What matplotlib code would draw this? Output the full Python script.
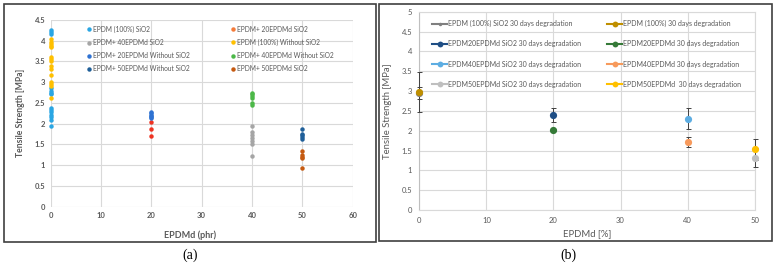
import matplotlib.pyplot as plt
from matplotlib.legend import Legend
from matplotlib.lines import Line2D
from matplotlib.patches import Rectangle

plt.rcParams['font.family'] = ['Lato', 'DejaVu Sans']

# ---- panel (a): tensile strength vs EPDMd content, individual specimens
a_labels = ['EPDM (100%) SiO2', 'EPDM+ 20EPDMd SiO2', 'EPDM+ 40EPDMd SiO2',
            'EPDM (100%) Without SiO2', 'EPDM+ 20EPDMd Without SiO2',
            'EPDM+ 40EPDMd Without SiO2', 'EPDM+ 50EPDMd Without SiO2',
            'EPDM+ 50EPDMd SiO2']
a_x = [0, 20, 40, 0, 20, 40, 50, 50]
a_vals = [
    [4.27, 4.22, 4.17, 2.86, 2.80, 2.75, 2.72, 2.39, 2.34, 2.28, 2.22, 2.16, 2.10, 1.94],
    [2.04, 1.88, 1.70],
    [1.95, 1.79, 1.72, 1.65, 1.58, 1.52, 1.22],
    [4.03, 3.98, 3.93, 3.88, 3.84, 3.62, 3.56, 3.50, 3.38, 3.33, 3.17, 3.00, 2.95, 2.91, 2.62],
    [2.28, 2.25, 2.22, 2.19, 2.16, 2.13],
    [2.75, 2.71, 2.67, 2.63, 2.50, 2.46],
    [1.87, 1.76, 1.72, 1.68, 1.64],
    [1.34, 1.24, 1.20, 1.17, 0.94],
]
a_colors = ['#2AA6E3', '#EE3322', '#A5A5A5', '#FFC000', '#2E72D2', '#4CB848', '#1F5F99', '#C55A11']
a_legend_colors = ['#2AA6E3', '#F47B3A', '#A5A5A5', '#FFC000', '#2E72D2', '#4CB848', '#1F5F99', '#C55A11']
a_cols = [[0, 2, 4, 6], [1, 3, 5, 7]]  # legend columns

# ---- panel (b): after 30 days degradation, mean +/- sd
b_labels = ['EPDM (100%) SiO2 30 days degradation', 'EPDM (100%) 30 days degradation',
            'EPDM20EPDMd SiO2 30 days degradation', 'EPDM20EPDMd 30 days degradation',
            'EPDM40EPDMd SiO2 30 days degradation', 'EPDM40EPDMd 30 days degradation',
            'EPDM50EPDMd SiO2 30 days degradation', 'EPDM50EPDMd  30 days degradation']
b_x = [0, 0, 20, 20, 40, 40, 50, 50]
b_mean = [2.95, 2.97, 2.39, 2.02, 2.30, 1.71, 1.32, 1.53]
b_err = [0.15, 0.50, 0.17, 0.03, 0.26, 0.12, 0.24, 0.27]
b_colors = ['#7F7F7F', '#BF8F00', '#1F4E85', '#357A38', '#5DADE2', '#F79A5C', '#BFBFBF', '#FFC000']
b_cols = [[0, 2, 4, 6], [1, 3, 5, 7]]

txt = '#595959'
grid = '#D9D9D9'

fig = plt.figure(figsize=(7.75, 2.67), dpi=100)

# frames around each panel
fig.patches.append(Rectangle((0.0058, 0.094), 0.4794, 0.891, transform=fig.transFigure,
                             fill=False, ec='#404040', lw=1.2))
fig.patches.append(Rectangle((0.489, 0.097), 0.5071, 0.888, transform=fig.transFigure,
                             fill=False, ec='#404040', lw=1.2))

# ---------- (a)
ax = fig.add_axes([0.0654, 0.2258, 0.3897, 0.6993])
for i in range(len(a_vals)):
    ax.plot([a_x[i]] * len(a_vals[i]), a_vals[i], 'o', ms=3.2, color=a_colors[i],
            mec='none', clip_on=False, zorder=3)
ax.set_xlim(0, 60)
ax.set_ylim(0, 4.5)
ax.set_xticks(range(0, 61, 10))
ax.set_yticks([0, 0.5, 1, 1.5, 2, 2.5, 3, 3.5, 4, 4.5])
ax.set_yticklabels(['0', '0.5', '1', '1.5', '2', '2.5', '3', '3.5', '4', '4.5'])
ax.grid(True, color=grid, lw=0.8)
ax.set_axisbelow(True)
for s in ax.spines.values():
    s.set_visible(False)
ax.tick_params(length=0, labelsize=5.5, colors=txt, pad=4)
for lab in ax.get_xticklabels() + ax.get_yticklabels():
    lab.set_fontweight('bold')
ax.set_ylabel('Tensile Strength [MPa]', fontsize=6.2, color=txt, fontweight='bold', labelpad=7)
ax.set_xlabel('EPDMd (phr)', fontsize=6.5, color=txt, fontweight='bold')
ax.xaxis.set_label_coords(0.46, -0.125)

for col, x0 in zip(a_cols, [0.12, 0.597]):
    handles = [Line2D([], [], ls='none', marker='o', ms=3.2, color=a_legend_colors[i], mec='none')
               for i in col]
    leg = Legend(ax, handles, [a_labels[i] for i in col], loc='upper left',
                 bbox_to_anchor=(x0, 0.969), frameon=False, fontsize=4.8, labelcolor=txt,
                 handlelength=0.6, handletextpad=0.3, labelspacing=0.9, borderaxespad=0,
                 borderpad=0)
    ax.add_artist(leg)

# ---------- (b)
bx = fig.add_axes([0.5410, 0.2135, 0.4328, 0.7427])
for i in range(len(b_mean)):
    bx.errorbar(b_x[i], b_mean[i], yerr=b_err[i], fmt='o', ms=5.2, color=b_colors[i],
                mec='none', ecolor='#404040', elinewidth=0.7, capsize=1.8, capthick=0.7,
                clip_on=False, zorder=3)
bx.set_xlim(0, 50)
bx.set_ylim(0, 5)
bx.set_xticks(range(0, 51, 10))
bx.set_yticks([0, 0.5, 1, 1.5, 2, 2.5, 3, 3.5, 4, 4.5, 5])
bx.set_yticklabels(['0', '0.5', '1', '1.5', '2', '2.5', '3', '3.5', '4', '4.5', '5'])
bx.grid(True, color=grid, lw=0.8)
bx.set_axisbelow(True)
for s in bx.spines.values():
    s.set_color(grid)
    s.set_linewidth(0.8)
bx.spines['left'].set_color('#BFBFBF')
bx.tick_params(length=0, labelsize=5.5, colors=txt, pad=5)
bx.set_ylabel('Tensile Strength [MPa]', fontsize=6.8, color=txt, labelpad=7)
bx.set_xlabel('EPDMd [%]', fontsize=6.8, color=txt, labelpad=4)

for col, x0 in zip(b_cols, [0.038, 0.56]):
    handles = [Line2D([], [], color=b_colors[i], lw=1.5, marker='o',
                      ms=2.5 if i == 0 else 4.2, mec='none') for i in col]
    leg = Legend(bx, handles, [b_labels[i] for i in col], loc='upper left',
                 bbox_to_anchor=(x0, 0.958), frameon=False, fontsize=5.0, labelcolor=txt,
                 handlelength=2.2, handletextpad=0.15, labelspacing=1.9, borderaxespad=0,
                 borderpad=0)
    bx.add_artist(leg)

fig.text(0.245, 0.045, '(a)', ha='center', va='center', fontsize=10,
         family=['Liberation Serif', 'DejaVu Serif'])
fig.text(0.733, 0.045, '(b)', ha='center', va='center', fontsize=10,
         family=['Liberation Serif', 'DejaVu Serif'])

fig.savefig('out.png', dpi=100)
